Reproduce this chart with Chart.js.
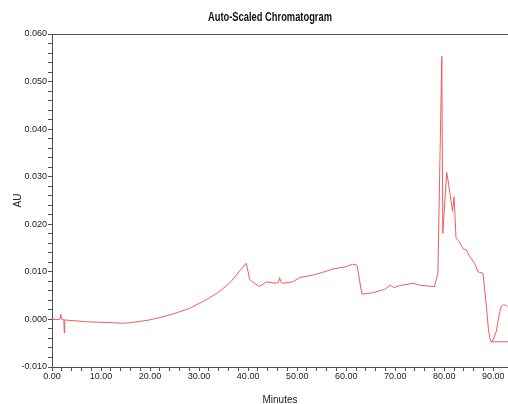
<!DOCTYPE html>
<html>
<head>
<meta charset="utf-8">
<script src="https://cdn.jsdelivr.net/npm/chart.js@4.4.1/dist/chart.umd.min.js"></script>
<style>
  html, body { margin: 0; padding: 0; background: #fff; }
  #wrap { width: 508px; height: 404px; position: relative; }
</style>
</head>
<body>
<div id="wrap"><canvas id="chromChart"></canvas></div>
<script>
const chartTitle = 'Auto-Scaled Chromatogram';
const xTitle = 'Minutes';
const yTitle = 'AU';

const times = [0, 1.0, 1.6, 1.8, 1.95, 2.4, 2.5, 2.6, 3.5, 5, 7, 10, 12.5, 14.4, 15.8, 18, 19.9, 22, 23.9,
    26, 28, 31.4, 33.8, 36.2, 39.6, 40.0, 40.3, 40.9, 42.3, 43.7, 45.7, 46.2, 46.4, 46.7, 47.0, 49.1, 50.5,
    53.2, 55.2, 57.3, 60.0, 61.3, 62.2, 63.2, 65.4, 67.8, 69.0, 69.7, 70.9, 73.6, 75, 78.0, 78.7, 79.5,
    79.7, 80.5, 80.9, 81.7, 82.0, 82.2, 82.4, 83.1, 83.8, 84.5, 85.2, 86.2, 86.9, 87.9, 88.6, 89.0, 89.3,
    89.6, 90.0, 90.6, 91.1, 91.6, 92.1, 92.5, 92.9];
const absorbance = [0.0000, 0.0000, 0.0000, 0.0011, 0.0001, 0.0000, -0.0028, -0.0001, -0.0002, -0.0003,
    -0.0005, -0.0006, -0.0007, -0.0008, -0.0007, -0.0004, -0.0001, 0.0004, 0.0009, 0.0016, 0.0023, 0.0041,
    0.0056, 0.0076, 0.0118, 0.0100, 0.0084, 0.0079, 0.0069, 0.0079, 0.0076, 0.0078, 0.0088, 0.0078, 0.0076,
    0.0079, 0.0088, 0.0093, 0.0099, 0.0106, 0.0111, 0.0116, 0.0114, 0.0053, 0.0056, 0.0063, 0.0072, 0.0067,
    0.0071, 0.0076, 0.0072, 0.0069, 0.0097, 0.0553, 0.0181, 0.0309, 0.0283, 0.0227, 0.0258, 0.0216, 0.0171,
    0.0163, 0.0149, 0.0146, 0.0132, 0.0118, 0.0100, 0.0097, 0.0027, -0.0020, -0.0040, -0.0048, -0.0042,
    -0.0026, 0.0005, 0.0027, 0.0031, 0.0030, 0.0027];

// Linha de base desenhada no fim da corrida
const baselineTimes = [89.6, 93];
const baselineValues = [-0.0047, -0.0047];

const xMin = 0, xMax = 93, xStep = 2, xLabelEvery = 10;
const yMin = -0.010, yMax = 0.060, yStep = 0.002, yLabelEvery = 0.010;

const axisColor = '#505050';
const lineColor = 'rgb(240, 92, 92)';
const labelFont = '"Liberation Sans", Arial, sans-serif';

function toPoints(xs, ys) {
    return xs.map((x, i) => ({ x: x, y: ys[i] }));
}

function isMultiple(value, step) {
    const r = value / step;
    return Math.abs(r - Math.round(r)) < 1e-6;
}

// Título (condensado) e moldura superior
const framePlugin = {
    id: 'framePlugin',
    afterDraw(chart) {
        const { ctx, chartArea } = chart;
        ctx.save();
        ctx.strokeStyle = axisColor;
        ctx.lineWidth = 1;
        ctx.beginPath();
        ctx.moveTo(chartArea.left, chartArea.top + 0.5);
        ctx.lineTo(chartArea.right, chartArea.top + 0.5);
        ctx.stroke();

        ctx.fillStyle = '#111';
        ctx.font = 'bold 12.5px ' + labelFont;
        ctx.textAlign = 'center';
        ctx.textBaseline = 'alphabetic';
        const w = ctx.measureText(chartTitle).width;
        const squeeze = 124 / w;
        ctx.translate(270, 20.5);
        ctx.scale(squeeze, 1);
        ctx.fillText(chartTitle, 0, 0);
        ctx.restore();
    }
};

const ctx = document.getElementById('chromChart').getContext('2d');
const chromChart = new Chart(ctx, {
    type: 'line',
    data: {
        datasets: [{
            label: 'AU',
            data: toPoints(times, absorbance),
            borderColor: lineColor,
            borderWidth: 1,
            pointRadius: 0,
            tension: 0,
            fill: false
        }, {
            label: 'Baseline',
            data: toPoints(baselineTimes, baselineValues),
            borderColor: lineColor,
            borderWidth: 1,
            pointRadius: 0,
            tension: 0,
            fill: false
        }]
    },
    options: {
        responsive: true,
        maintainAspectRatio: false,
        animation: false,
        layout: { padding: { top: 34, right: 0, bottom: 0, left: 0 } },
        plugins: {
            legend: { display: false },
            title: { display: false },
            tooltip: { enabled: false }
        },
        scales: {
            x: {
                type: 'linear',
                min: xMin,
                max: xMax,
                afterFit: function(scale) { scale.height = 37; },
                border: { display: true, color: axisColor, width: 1 },
                grid: { drawOnChartArea: false, drawTicks: true, tickLength: 4, color: axisColor },
                ticks: {
                    stepSize: xStep,
                    autoSkip: false,
                    maxRotation: 0,
                    padding: 0,
                    color: '#222',
                    font: { family: labelFont, size: 9 },
                    callback: function(value) {
                        return isMultiple(value, xLabelEvery) ? value.toFixed(2) : '';
                    }
                },
                title: {
                    display: true,
                    text: xTitle,
                    color: '#222',
                    font: { family: labelFont, size: 10 },
                    padding: { top: 0, bottom: -2 }
                }
            },
            y: {
                type: 'linear',
                min: yMin,
                max: yMax,
                afterFit: function(scale) { scale.width = 52; },
                border: { display: true, color: axisColor, width: 1 },
                grid: { drawOnChartArea: false, drawTicks: true, tickLength: 4, color: axisColor },
                ticks: {
                    stepSize: yStep,
                    autoSkip: false,
                    padding: 1,
                    color: '#222',
                    font: { family: labelFont, size: 9 },
                    callback: function(value) {
                        if (!isMultiple(value, yLabelEvery)) return '';
                        const v = Math.abs(value) < 1e-9 ? 0 : value;
                        return v.toFixed(3);
                    }
                },
                title: {
                    display: true,
                    text: yTitle,
                    color: '#222',
                    font: { family: labelFont, size: 10 },
                    padding: { top: 12, bottom: 0 }
                }
            }
        }
    },
    plugins: [framePlugin]
});
</script>
</body>
</html>
